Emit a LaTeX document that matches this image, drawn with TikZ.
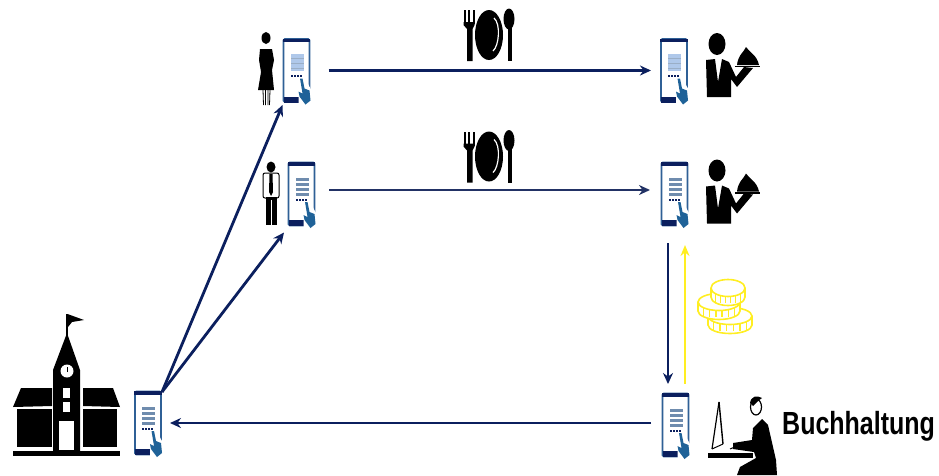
\documentclass[tikz,border=0pt]{standalone}
\usepackage{fontspec}
\setmainfont{Liberation Sans}
\usetikzlibrary{arrows.meta}
\definecolor{navyline}{HTML}{0B1F5E}
\definecolor{phoneblue}{HTML}{2F6096}
\definecolor{handblue}{HTML}{1F6298}
\definecolor{lightbox}{HTML}{AFC8EA}
\definecolor{listgray}{HTML}{6F8CAE}
\definecolor{coinyellow}{HTML}{FFEE22}
\tikzset{
  x=1pt,y=-1pt,
  phonebox/.style={minimum width=26pt,minimum height=63pt,inner sep=0pt,outer sep=0pt},
  flow/.style={draw=navyline,line width=2.8pt,-{Stealth[length=11pt,width=10pt]}},
  thinflow/.style={draw=navyline!80!gray,line width=2.2pt,-{Stealth[length=11pt,width=10pt]}},
  payflow/.style={draw=coinyellow,line width=2pt,-{Stealth[length=11pt,width=9pt]}},
  phonebase/.pic={
    \draw[phoneblue,line width=1.8pt,rounded corners=1.5pt,fill=white] (-13,-31.5) rectangle (13,31.5);
    \fill[navyline] (-13.7,-32) rectangle (13.7,-28.5);
    \fill[navyline] (-13,26) rectangle (3,32);
    \foreach \dx in {-6,-3,0,3}{\fill[navyline] (\dx,4.5) rectangle (\dx+2,6.5);}
    \fill[white] (2,7) -- (8,7) -- (15,20) -- (15,34) -- (2,34) -- cycle;
    \fill[handblue] (3.5,8) -- (6,8) -- (8,18) -- (13,20) -- (14,30) -- (9,34) -- (3,26) -- (2,21) -- (6,23) -- cycle;
  },
  phonelist/.pic={
    \pic {phonebase};
    \foreach \ly in {-16,-11,-6,-1}{\fill[listgray] (-6,\ly) rectangle (7,\ly+2.6);}
  },
  phonelight/.pic={
    \pic {phonebase};
    \fill[lightbox] (-6,-17) rectangle (7,0);
    \foreach \ly in {-13,-8,-3}{\fill[listgray!70!white] (-6,\ly) rectangle (7,\ly+1);}
  },
  foodicon/.pic={
    \fill (463.5,10) rectangle (465.5,24);
    \fill (468,10) rectangle (470,24);
    \fill (472.5,10) rectangle (474.5,24);
    \fill (463.5,22) -- (474.5,22) -- (474.5,25) -- (472.5,29) -- (472.5,61) -- (467,61) -- (467,29) -- (463.5,25) -- cycle;
    \fill (489,35) ellipse [x radius=14,y radius=25];
    \draw[white,line width=1.2pt] (493,51) .. controls (499,46) and (501,24) .. (494,18);
    \fill (509,19) ellipse [x radius=5.5,y radius=10.5];
    \fill (507.5,26) rectangle (512,61);
  },
  waiter/.pic={
    \fill (717,44) ellipse [x radius=8.5,y radius=11];
    \fill (706,60) -- (715,59) -- (718,82) -- (722,59) -- (729,62) -- (736,77) -- (744,67) -- (753,68) -- (737,87) -- (731,79) -- (731,97) -- (707,97) -- cycle;
    \fill (737,65) .. controls (738,55) and (744,52) .. (746,47) .. controls (749,52) and (757,55) .. (759,65) -- cycle;
    \fill (735,65.5) rectangle (760,67);
  },
  coin/.pic={
    \draw[coinyellow,line width=1.6pt,fill=white] (-\rx,0) -- (-\rx,9) arc[start angle=180,end angle=0,x radius=\rx,y radius=8.5] -- (\rx,0);
    \foreach \cx in {-.75,-.45,-.15,.15,.45,.75}{
      \draw[coinyellow,line width=1.4pt] (\cx*\rx,5) -- (\cx*\rx,15);
    }
    \draw[coinyellow,line width=1.6pt,fill=white] (0,0) ellipse [x radius=\rx,y radius=8.5];
  },
}
\begin{document}
\begin{tikzpicture}
\useasboundingbox (0,0) rectangle (939,475);

% phone anchors
\node[phonebox] (school phone) at (148,423) {};
\node[phonebox] (woman phone) at (296.5,70.5) {};
\node[phonebox] (man phone) at (301.5,194) {};
\node[phonebox] (waiter one phone) at (674,70.5) {};
\node[phonebox] (waiter two phone) at (674.5,194) {};
\node[phonebox] (accounting phone) at (675.5,425) {};

\pic at (school phone) {phonelist};
\pic at (woman phone) {phonelight};
\pic at (man phone) {phonelist};
\pic at (waiter one phone) {phonelight};
\pic at (waiter two phone) {phonelist};
\pic at (accounting phone) {phonelist};

% school
\fill (13,407) -- (21,388) -- (52,388) -- (52,406) -- cycle;
\fill (17,409) rectangle (52,447);
\fill (120,407) -- (113,388) -- (83,388) -- (83,406) -- cycle;
\fill (83,409) rectangle (117,447);
\fill (53,370) -- (67,333) -- (80,370) -- (80,452) -- (53,452) -- cycle;
\fill (13,451) rectangle (120,456);
\fill[white] (67,371) circle (6.5);
\draw[line width=.8pt] (67,372) -- (67,367);
\fill[white] (63,388) rectangle (70,398);
\fill[white] (63,402) rectangle (70,412);
\fill[white] (59,421) rectangle (74,450);
\draw[line width=1.2pt] (67,314) -- (67,335);
\fill (67.5,314) -- (84,320) -- (72,322) -- (68,327) -- cycle;

% woman
\fill (266,38) ellipse [x radius=4.5,y radius=6];
\fill (260,49) -- (272,49) -- (274,60) -- (272,70) -- (274,90) -- (258,90) -- (261,72) -- (259,60) -- cycle;
\draw[line width=.8pt] (263,90) -- (263.5,105) (265.5,90) -- (265.5,105) (268,90) -- (268,105) (270,90) -- (269.5,105);

% man
\fill (271,167) ellipse [x radius=4.5,y radius=5.5];
\draw[line width=1pt,fill=white,rounded corners=2pt] (263,173) -- (279,173) -- (279,198) -- (263,198) -- cycle;
\fill (269.5,174) -- (272.5,174) -- (273,192) -- (271,196) -- (269,192) -- cycle;
\fill (266,197) rectangle (277,225);
\draw[white,line width=.8pt] (271.5,200) -- (271.5,225);

% food icons and waiters
\pic {foodicon};
\pic at (0,121.5) {foodicon};
\pic {waiter};
\pic at (0,126.5) {waiter};

% coins
\def\rx{22}\pic at (730,316) {coin};
\def\rx{21}\pic at (719,302) {coin};
\def\rx{17}\pic at (728,288) {coin};

% accountant
\draw[line width=1.4pt] (719,402) -- (723,444);
\draw[line width=1.2pt] (719,402) -- (712,449);
\draw[line width=1pt] (712,449) -- (723,444);
\fill (708,453) rectangle (753,458);
\draw[line width=1pt] (730,449) -- (742,444);
\draw[line width=1.2pt] (756,407) ellipse [x radius=5.5,y radius=8];
\fill (750,403) .. controls (751,396) and (757,395) .. (762,398) -- (758,401) -- (753,406) -- cycle;
\fill (762,419) -- (768,425) -- (776,460) -- (777,475) -- (737,475) -- (740,467) -- (756,458) -- (754,452) -- (733,449) -- (733,443) -- (752,440) -- (753,428) -- cycle;

\node[font=\bfseries\fontsize{25}{25}\selectfont,yscale=1.28,transform shape,inner sep=0pt,anchor=base west] (buchhaltung label) at (782,434.5) {Buchhaltung};

% connectors
\draw[flow] ([xshift=1pt,yshift=-0.5pt]school phone.north east) -- ([xshift=-1pt,yshift=-3pt]woman phone.south west);
\draw[flow] ([xshift=1pt,yshift=-0.5pt]school phone.north east) -- ([xshift=-4.5pt,yshift=-7pt]man phone.south west);
\draw[flow] ([xshift=19pt]woman phone.east) -- ([xshift=-10pt]waiter one phone.west);
\draw[thinflow] ([xshift=14.5pt,yshift=4pt]man phone.east) -- ([xshift=-11.5pt,yshift=4pt]waiter two phone.west);
\draw[flow] ([xshift=-6.5pt,yshift=-17.5pt]waiter two phone.south) -- ([xshift=-7.5pt,yshift=9.5pt]accounting phone.north);
\draw[payflow] ([xshift=9.5pt,yshift=9.5pt]accounting phone.north) -- ([xshift=10.5pt,yshift=-19.5pt]waiter two phone.south);
\draw[flow] ([xshift=-11.5pt,yshift=2pt]accounting phone.west) -- ([xshift=9pt]school phone.east);
\end{tikzpicture}
\end{document}
